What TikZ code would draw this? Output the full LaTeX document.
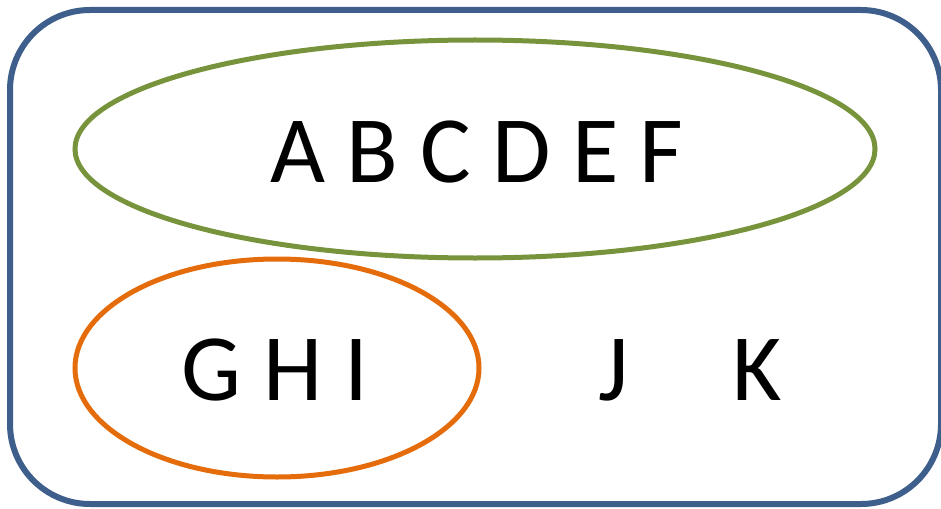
\documentclass[tikz,border=0pt]{standalone}
\usepackage{fontspec}
\setmainfont{Carlito}
\usepackage{xcolor}
\usepackage{tikz}
\usetikzlibrary{positioning}
\definecolor{frameblue}{HTML}{3E5F8C}
\definecolor{setgreen}{HTML}{77933C}
\definecolor{setorange}{HTML}{E46C0A}

\begin{document}
\begin{tikzpicture}[x=1pt,y=-1pt,
  every node/.style={font=\fontsize{95}{95}\selectfont,inner sep=0pt},
  lbl/.style={anchor=base},
  setline/.style={line width=5pt}]
\useasboundingbox (0,0) rectangle (941,508);
\draw[frameblue,line width=6pt,rounded corners=80pt] (10,10) rectangle (941,504);
\draw[setgreen,setline] (475,149) ellipse (400 and 109);
\draw[setorange,setline] (277,368) ellipse (202 and 109);
\node[lbl] (top) at (477,182) {A B C D E F};
\node[lbl] (ghi) at (275,400) {G H I};
\node[lbl] (j) at (614,400) {J};
\node[lbl] (k) at (757,400) {K};
\end{tikzpicture}
\end{document}
